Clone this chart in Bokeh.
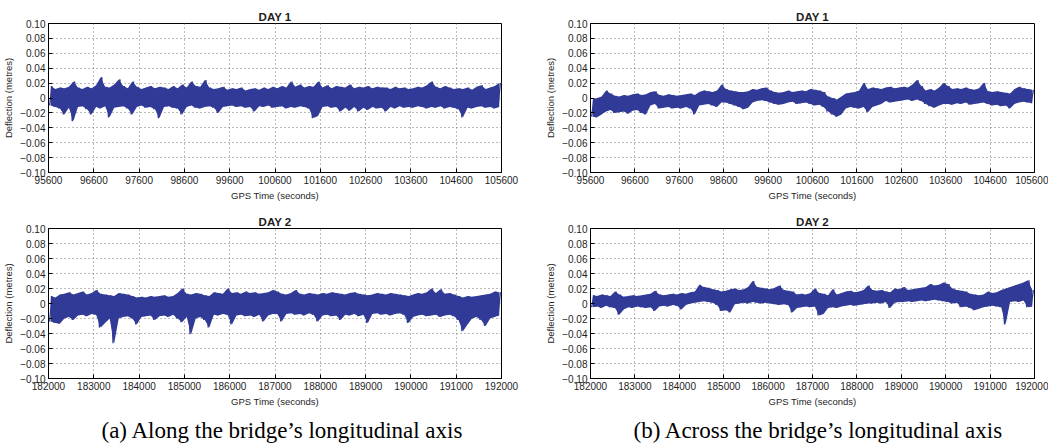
import numpy as np
from bokeh.plotting import figure
from bokeh.layouts import row, column
from bokeh.models import Range1d, FixedTicker, Title
from bokeh.embed import file_html
from bokeh.resources import INLINE

# ---------------- data ----------------
MM = 0.001          # values below are in millimetres -> metres
BIN = 100           # seconds per envelope bin

day1_start = 95600
day2_start = 182000
day1_ticks = [95600, 96600, 97600, 98600, 99600, 100600, 101600, 102600, 103600, 104600, 105600]
day2_ticks = [182000, 183000, 184000, 185000, 186000, 187000, 188000, 189000, 190000, 191000, 192000]
y_ticks = [-0.10, -0.08, -0.06, -0.04, -0.02, 0.0, 0.02, 0.04, 0.06, 0.08, 0.10]
y_tick_labels = ["\u22120.10", "\u22120.08", "\u22120.06", "\u22120.04", "\u22120.02", "0",
                 "0.02", "0.04", "0.06", "0.08", "0.10"]

# (a) along the longitudinal axis, day 1: upper / lower envelope per 100 s
along_day1_hi = [16, 12, 14, 13, 15, 22, 14, 12, 15, 13,
                 17, 28, 15, 14, 18, 25, 16, 13, 22, 15,
                 12, 14, 16, 13, 15, 14, 12, 16, 13, 18,
                 14, 22, 16, 15, 24, 14, 12, 13, 15, 11,
                 13, 12, 14, 10, 12, 13, 11, 14, 12, 15,
                 13, 16, 14, 22, 15, 18, 14, 16, 15, 22,
                 14, 17, 13, 16, 15, 14, 18, 13, 15, 14,
                 16, 13, 15, 14, 14, 12, 15, 13, 14, 12,
                 13, 15, 14, 17, 22, 15, 13, 16, 14, 12,
                 13, 12, 14, 11, 15, 17, 12, 14, 16, 20]
along_day1_lo = [-10, -12, -14, -22, -13, -31, -12, -11, -15, -22,
                 -12, -14, -11, -26, -13, -12, -11, -14, -22, -12,
                 -10, -13, -12, -15, -27, -12, -11, -13, -14, -22,
                 -12, -10, -13, -14, -12, -11, -13, -20, -12, -11,
                 -10, -12, -11, -13, -12, -18, -11, -12, -10, -13,
                 -12, -11, -14, -12, -13, -11, -12, -14, -27, -24,
                 -12, -11, -13, -12, -18, -13, -17, -12, -18, -13,
                 -16, -12, -14, -13, -18, -12, -14, -11, -13, -12,
                 -13, -11, -12, -14, -12, -13, -11, -14, -12, -13,
                 -15, -26, -13, -14, -12, -11, -13, -12, -14, -12]

# (b) across the longitudinal axis, day 1
across_day1_hi = [-2, 0, 2, 10, 6, 3, 2, 4, 3, 5,
                  6, 4, 5, 8, 9, 4, 3, 5, 4, 3,
                  4, 5, 6, 4, 8, 10, 9, 8, 10, 18,
                  12, 10, 9, 8, 8, 9, 12, 11, 13, 14,
                  10, 8, 7, 8, 10, 8, 9, 10, 9, 12,
                  11, 10, 8, 2, 0, -2, 2, 6, 7, 8,
                  10, 20, 12, 14, 13, 12, 14, 15, 13, 14,
                  15, 14, 18, 24, 16, 10, 12, 10, 14, 20,
                  16, 12, 13, 12, 14, 12, 11, 13, 20, 9,
                  8, 9, 8, 7, 6, 12, 15, 13, 12, 11]
across_day1_lo = [-25, -26, -22, -18, -16, -20, -19, -18, -21, -17,
                  -16, -20, -22, -10, -8, -14, -13, -12, -14, -13,
                  -14, -12, -14, -22, -10, -9, -8, -10, -12, -6,
                  -6, -8, -10, -12, -15, -13, -6, -4, -3, -4,
                  -6, -8, -9, -8, -6, -5, -8, -7, -6, -8,
                  -10, -9, -12, -18, -22, -25, -22, -14, -12, -13,
                  -14, -12, -19, -12, -10, -8, -4, -6, -5, -4,
                  -3, -2, -4, -2, -4, -8, -11, -13, -10, -8,
                  -8, -9, -7, -8, -6, -9, -8, -7, -6, -8,
                  -10, -9, -11, -10, -14, -8, -6, -5, -6, -7]

# (a) along the longitudinal axis, day 2
along_day2_hi = [10, 8, 12, 13, 15, 12, 14, 16, 12, 14,
                 18, 13, 12, 11, 10, 14, 13, 12, 10, 8,
                 9, 8, 10, 9, 10, 11, 9, 10, 14, 20,
                 13, 12, 14, 13, 11, 10, 15, 14, 13, 20,
                 14, 15, 13, 16, 14, 15, 13, 14, 15, 18,
                 16, 13, 12, 14, 18, 13, 12, 14, 13, 12,
                 14, 13, 15, 14, 13, 12, 14, 15, 13, 12,
                 11, 12, 14, 13, 12, 14, 13, 12, 11, 10,
                 12, 14, 13, 15, 20, 14, 19, 13, 14, 12,
                 10, 8, 10, 9, 10, 11, 12, 13, 16, 15]
along_day2_lo = [-24, -26, -27, -20, -18, -22, -16, -15, -17, -14,
                 -15, -32, -26, -20, -53, -20, -18, -17, -20, -28,
                 -18, -17, -16, -22, -17, -16, -18, -15, -20, -25,
                 -18, -41, -20, -18, -22, -32, -15, -16, -14, -15,
                 -28, -16, -15, -17, -16, -18, -15, -24, -16, -14,
                 -14, -24, -14, -13, -15, -14, -16, -13, -15, -24,
                 -16, -15, -17, -16, -22, -15, -16, -14, -17, -15,
                 -26, -14, -13, -15, -14, -16, -14, -13, -15, -26,
                 -18, -16, -15, -17, -16, -15, -18, -16, -15, -17,
                 -22, -37, -28, -20, -18, -22, -30, -20, -18, -16]

# (b) across the longitudinal axis, day 2
across_day2_hi = [11, 10, 12, 11, 10, 16, 12, 9, 10, 11,
                  10, 11, 12, 13, 17, 12, 11, 12, 13, 12,
                  14, 13, 15, 16, 25, 22, 21, 19, 18, 16,
                  17, 19, 20, 18, 19, 22, 30, 22, 21, 20,
                  19, 21, 24, 18, 17, 16, 12, 13, 12, 14,
                  20, 14, 13, 11, 19, 12, 14, 16, 17, 15,
                  16, 18, 24, 18, 17, 18, 16, 15, 20, 19,
                  22, 18, 19, 20, 21, 22, 26, 24, 25, 28,
                  26, 20, 18, 17, 16, 13, 12, 11, 12, 16,
                  14, 15, 18, 20, 22, 24, 26, 28, 31, 18]
across_day2_lo = [-5, -4, -6, -3, -5, -6, -15, -8, -5, -6,
                  -4, -5, -6, -5, -10, -4, -3, -4, -2, -3,
                  -8, -2, 0, 1, 2, 3, 2, 1, -2, -10,
                  -9, -12, -1, 0, 1, 0, 2, 1, 0, 1,
                  0, -1, -2, -1, -2, -12, -6, -5, -4, -5,
                  -4, -16, -14, -6, -5, -6, -4, -3, -2, -3,
                  -2, -1, 0, 0, 1, 0, 2, -6, 1, 2,
                  2, 3, 2, 3, 4, 3, 4, 5, 4, 3,
                  2, 0, 1, -5, -4, -6, -9, -7, -5, -4,
                  -3, -4, -5, -28, 2, 3, 2, 4, -5, -4]

# ---------------- styling ----------------
LINE_COLOR = "#313b97"
TEXT_COLOR = "#1e1e1e"
SANS = "Liberation Sans"
SERIF = "Liberation Serif"


def trace(start, hi, lo):
    """Bin centres, envelopes (metres) and the interleaved trace."""
    hi = np.asarray(hi, dtype=float) * MM
    lo = np.asarray(lo, dtype=float) * MM
    base = start + BIN * np.arange(len(hi))
    t = np.empty(2 * len(hi))
    y = np.empty(2 * len(hi))
    t[0::2] = base + 0.25 * BIN
    t[1::2] = base + 0.75 * BIN
    y[0::2] = lo
    y[1::2] = hi
    return base + 0.5 * BIN, hi, lo, t, y


def panel(start, hi, lo, xticks, title, left, fw, right, top, fh, bottom,
          caption=None, caption_offset=0):
    p = figure(frame_width=fw, frame_height=fh,
               min_border_left=left, min_border_right=right,
               min_border_top=top, min_border_bottom=bottom,
               x_range=Range1d(xticks[0], xticks[-1]), y_range=Range1d(y_ticks[0], y_ticks[-1]),
               output_backend="svg", toolbar_location=None, title=title)
    p.background_fill_color = "white"
    p.border_fill_color = "white"
    p.outline_line_color = "black"
    p.outline_line_width = 1

    p.title.align = "center"
    p.title.text_font = SANS
    p.title.text_font_size = "11.5px"
    p.title.text_font_style = "bold"
    p.title.text_color = TEXT_COLOR
    p.title.standoff = 2

    tc, yh, yl, t, y = trace(start, hi, lo)
    p.varea(x=tc, y1=yl, y2=yh, fill_color=LINE_COLOR, fill_alpha=1.0)
    p.line(t, y, line_color=LINE_COLOR, line_width=1.3, line_join="bevel")

    p.xaxis.ticker = FixedTicker(ticks=xticks)
    p.xaxis.major_label_overrides = {v: str(v) for v in xticks}
    p.yaxis.ticker = FixedTicker(ticks=y_ticks)
    p.yaxis.major_label_overrides = dict(zip(y_ticks, y_tick_labels))

    p.xaxis.axis_label = "GPS Time (seconds)"
    p.yaxis.axis_label = "Deflection (metres)"
    for ax in (p.xaxis, p.yaxis):
        ax.axis_line_color = "black"
        ax.major_tick_line_color = "black"
        ax.major_tick_in = 4
        ax.major_tick_out = 0
        ax.minor_tick_line_color = None
        ax.major_label_text_font = SANS
        ax.major_label_text_font_size = "10px"
        ax.major_label_text_color = TEXT_COLOR
        ax.major_label_standoff = 3
        ax.axis_label_text_font = SANS
        ax.axis_label_text_font_size = "9.5px"
        ax.axis_label_text_font_style = "normal"
        ax.axis_label_text_color = TEXT_COLOR
        ax.axis_label_standoff = 3

    for g in (p.xgrid, p.ygrid):
        g.grid_line_color = "#777777"
        g.grid_line_dash = "1 3"
        g.grid_line_width = 1

    if caption:
        p.add_layout(Title(text=caption, align="left", offset=caption_offset,
                           text_font=SERIF, text_font_size="23px", text_font_style="normal",
                           text_color="black", standoff=12), "below")
    return p


a1 = panel(day1_start, along_day1_hi, along_day1_lo, day1_ticks, "DAY 1", 42, 453, 27, 23, 149, 35)
a2 = panel(day2_start, along_day2_hi, along_day2_lo, day2_ticks, "DAY 2", 42, 453, 27, 21, 150, 60,
           caption="(a) Along the bridge\u2019s longitudinal axis", caption_offset=53)
b1 = panel(day1_start, across_day1_hi, across_day1_lo, day1_ticks, "DAY 1", 62, 444, 14, 23, 149, 35)
b2 = panel(day2_start, across_day2_hi, across_day2_lo, day2_ticks, "DAY 2", 62, 444, 14, 21, 150, 60,
           caption="(b) Across the bridge\u2019s longitudinal axis", caption_offset=43)

layout = row(column(a1, a2, spacing=0), column(b1, b2, spacing=0), spacing=0)

open("out.html", "w").write(file_html(layout, INLINE))
